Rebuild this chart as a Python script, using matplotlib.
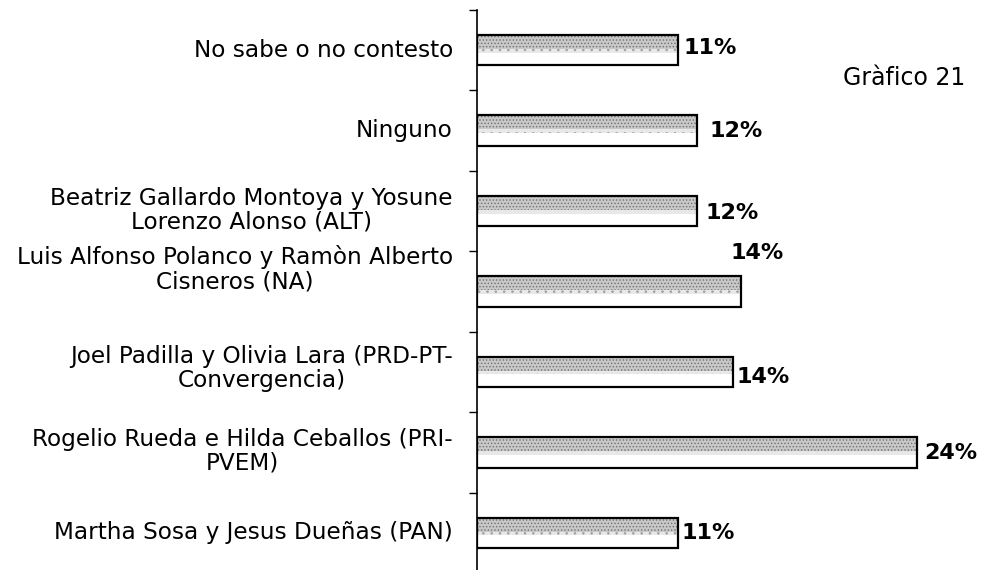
import numpy as np
import matplotlib
matplotlib.use('Agg')
import matplotlib.pyplot as plt

plt.rcParams['font.family'] = ['DejaVu Sans']
plt.rcParams['hatch.linewidth'] = 0.6

categories = ['No sabe o no contesto',
              'Ninguno',
              'Beatriz Gallardo Montoya y Yosune\nLorenzo Alonso (ALT)',
              'Luis Alfonso Polanco y Ramòn Alberto\nCisneros (NA)',
              'Joel Padilla y Olivia Lara (PRD-PT-\nConvergencia)',
              'Rogelio Rueda e Hilda Ceballos (PRI-\nPVEM)',
              'Martha Sosa y Jesus Dueñas (PAN)']
values = [11, 12, 12, 14.4, 14.0, 24, 11]
value_labels = ['11%', '12%', '12%', '14%', '14%', '24%', '11%']

# label offsets in pixels (dx from bar end, dy up)
label_dx = [5, 13, 9, -10, 3, 8, 3]
label_dy = [2, 0, -2, 39, -5, -1, 0]
cat_dy = [0, 0, 1, 22, 3, 1, 0]

bar_h = 0.38

fig = plt.figure(figsize=(9.87, 5.70), dpi=100)
ax = fig.add_axes([477 / 987, -3 / 570, 500 / 987, 563 / 570])

y = np.arange(len(categories))
ax.barh(y, values, height=bar_h, color='white', edgecolor='none', zorder=2)
# speckled look in the upper part of each bar
ax.barh(y - bar_h * 0.27, values, height=bar_h * 0.46, color='#c8c8c8',
        edgecolor='#707070', linewidth=0, hatch='.....', zorder=3)
ax.barh(y + bar_h * 0.02, values, height=bar_h * 0.12, color='#e8e8e8',
        edgecolor='#a0a0a0', linewidth=0, hatch='..', zorder=3)
ax.barh(y, values, height=bar_h, color='none', edgecolor='black', linewidth=1.6, zorder=4)

for i, v in enumerate(values):
    ax.annotate(value_labels[i], (v, i), xytext=(label_dx[i], label_dy[i]),
                textcoords='offset pixels', ha='left', va='center',
                fontsize=16, fontweight='bold', color='black')

for i, c in enumerate(categories):
    ax.annotate(c, (0, i), xytext=(-24, cat_dy[i]), textcoords='offset pixels',
                ha='right', va='center', multialignment='center',
                fontsize=16.7, linespacing=1.06, annotation_clip=False)

ax.set_xlim(0, 27.3)
ax.set_ylim(len(categories) - 0.5, -0.5)

ax.set_yticks(np.arange(len(categories) + 1) - 0.5)
ax.set_yticklabels([])
ax.tick_params(axis='y', length=6, width=1.0, direction='out')
ax.set_xticks([])

for s in ['top', 'right', 'bottom']:
    ax.spines[s].set_visible(False)
ax.spines['left'].set_linewidth(1.2)

fig.text(843 / 987, 1 - 78 / 570, 'Gràfico 21', fontsize=17, ha='left', va='center')

fig.savefig('out.png', dpi=100)
